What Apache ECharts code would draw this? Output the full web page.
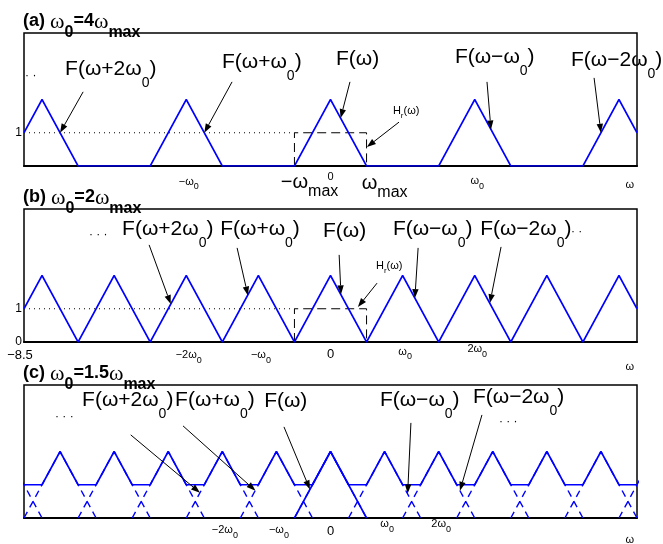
<!DOCTYPE html>
<html><head><meta charset="utf-8">
<script src="https://cdn.jsdelivr.net/npm/echarts@6/dist/echarts.min.js"></script>
<style>html,body{margin:0;padding:0;background:#fff}#c{width:663px;height:544px}</style>
</head><body><div id="c"></div>
<script>
// ---------------- data ----------------
const xRange = [-8.5, 8.5];
const yRange = [0, 4];
// (a) w0 = 4 wmax
const aX = [-8.5, -8, -7, -5, -4, -3, -1, 0, 1, 3, 4, 5, 7, 8, 8.5];
const aY = [1, 2, 0, 0, 2, 0, 0, 2, 0, 0, 2, 0, 0, 2, 1];
// (b) w0 = 2 wmax
const bX = [-8.5, -8, -7, -6, -5, -4, -3, -2, -1, 0, 1, 2, 3, 4, 5, 6, 7, 8, 8.5];
const bY = [1, 2, 0, 2, 0, 2, 0, 2, 0, 2, 0, 2, 0, 2, 0, 2, 0, 2, 1];
// (c) w0 = 1.5 wmax : summed spectrum (solid)
const cSumX = [-8.5, -8, -7.5, -7, -6.5, -6, -5.5, -5, -4.5, -4, -3.5, -3, -2.5, -2, -1.5, -1, -0.5, 0, 0.5, 1, 1.5, 2, 2.5, 3, 3.5, 4, 4.5, 5, 5.5, 6, 6.5, 7, 7.5, 8, 8.5];
const cSumY = [1, 1, 2, 1, 1, 2, 1, 1, 2, 1, 1, 2, 1, 1, 2, 1, 1, 2, 1, 1, 2, 1, 1, 2, 1, 1, 2, 1, 1, 2, 1, 1, 2, 1, 1];
// (c) individual shifted copies (dashed)
const cCenters = [-9, -7.5, -6, -4.5, -3, -1.5, 0, 1.5, 3, 4.5, 6, 7.5, 9];
const cSolidCenters = [0];
const triDX = [-1, 0, 1];
const triY = [0, 2, 0];
// ideal reconstruction filter Hr and the level-1 guide
const hrX = [-1, -1, 1, 1];
const hrY = [0, 1, 1, 0];
const dotX = [-8.5, -1];
const dotY = [1, 1];

// tick labels
const aTicks = [-4, -1, 0, 1, 4, 8.3];
const aTickText = ['−ω_{0}', '−ω_{max}', '0', 'ω_{max}', 'ω_{0}', 'ω'];
const bTicks = [-8.5, -4, -2, 0, 2, 4, 8.3];
const bTickText = ['−8.5', '−2ω_{0}', '−ω_{0}', '0', 'ω_{0}', '2ω_{0}', 'ω'];
const cTicks = [-3, -1.5, 0, 1.5, 3, 8.3];
const cTickText = ['−2ω_{0}', '−ω_{0}', '0', 'ω_{0}', '2ω_{0}', 'ω'];
const aYTicks = [1];
const aYText = ['1'];
const bYTicks = [0, 1];
const bYText = ['0', '1'];

// titles
const titles = ['(a) ω_{0}=4ω_{max}', '(b) ω_{0}=2ω_{max}', '(c) ω_{0}=1.5ω_{max}'];

// annotations
const noteText = ['F(ω+2ω_{0})', 'F(ω+ω_{0})', 'F(ω)', 'F(ω−ω_{0})', 'F(ω−2ω_{0})'];
const aNoteX = [-7.36, -3.01, 0.15, 3.45, 6.67];
const aNoteY = [2.90, 3.13, 3.22, 3.28, 3.17];
const bNoteX = [-5.78, -3.06, -0.21, 1.73, 4.15];
const bNoteY = [3.40, 3.40, 3.34, 3.40, 3.40];
const cNoteX = [-6.89, -4.31, -1.84, 1.37, 3.95];
const cNoteY = [3.54, 3.54, 3.51, 3.54, 3.63];
const hrText = 'H_{r}(ω)';
const aHrPos = [1.73, 1.65];
const bHrPos = [1.26, 2.29];
const aArrowFrom = [[-6.86, 2.23], [-2.73, 2.53], [0.54, 2.53], [4.34, 2.53], [7.31, 2.65], [1.90, 1.32]];
const aArrowTo = [[-7.5, 1.0], [-3.5, 1.0], [0.28, 1.44], [4.45, 1.1], [7.5, 1.0], [1.01, 0.57]];
const bArrowFrom = [[-5.03, 2.92], [-2.59, 2.83], [0.24, 2.62], [2.43, 2.83], [4.73, 2.86], [1.29, 1.77]];
const bArrowTo = [[-4.43, 1.14], [-2.29, 1.40], [0.29, 1.43], [2.34, 1.32], [4.42, 1.17], [0.76, 1.05]];
const cArrowFrom = [[-5.54, 2.50], [-4.09, 2.77], [-1.29, 2.74], [2.23, 2.86], [4.20, 3.10]];
const cArrowTo = [[-3.62, 0.76], [-2.08, 0.82], [-0.57, 0.86], [2.14, 0.74], [3.59, 0.82]];
const aDots = [[-8.47, 2.71, '· ·']];
const bDots = [[-6.70, 3.22, '· · ·'], [6.67, 3.31, '· ·']];
const cDots = [[-7.64, 3.04, '· · ·'], [4.67, 2.89, '· · ·']];

// ---------------- layout / style ----------------
const FONT = '"Liberation Sans", Arial, Helvetica, sans-serif';
const SERIF = '"Liberation Serif", "Times New Roman", serif';
const BLUE = '#0000ff';
const gridTops = [33, 209, 385];
const gridH = 133;
const ST_NOTE = {size: 21, subSize: 14, subDy: 14, weight: 'normal'};
const ST_HR = {size: 11, subSize: 8, subDy: 5, weight: 'normal'};
const ST_DOTS = {size: 12, subSize: 12, subDy: 0, weight: 'normal'};
const ST_TICK = {size: 11, subSize: 9, subDy: 5.5, weight: 'normal'};
const ST_TICKL = {size: 20, subSize: 16, subDy: 10, weight: 'normal'};
const ST_TICKM = {size: 13, subSize: 9, subDy: 5.5, weight: 'normal'};
const ST_YT = {size: 12, subSize: 9, subDy: 0, weight: 'normal'};
const ST_TITLE = {size: 18, subSize: 16, subDy: 12, weight: 'bold', omega: 'normal 22px ' + SERIF};
// per-label layout (style, dx, dy below axis)
const aTickLay = [[ST_TICK, 0, 15.5], [ST_TICKL, 0, 16], [ST_TICK, 0, 10.5], [ST_TICKL, 3, 17], [ST_TICK, 0, 15], [ST_TICK, 0, 19]];
const bTickLay = [[ST_TICKM, -4, 13], [ST_TICK, 0, 13], [ST_TICK, 0, 13], [ST_TICKM, 0, 12], [ST_TICK, 0, 9.5], [ST_TICK, 0, 7], [ST_TICK, 0, 25]];
const cTickLay = [[ST_TICK, 0, 12], [ST_TICK, 0, 12], [ST_TICKM, 0, 13], [ST_TICK, 0, 6], [ST_TICK, 0, 6], [ST_TICK, 0, 22]];

const zip = (xs, ys) => xs.map((x, i) => [x, ys[i]]);
function tris(centers) {
  const out = [];
  centers.forEach((c, k) => {
    if (k) out.push(['-', '-']);
    triDX.forEach((d, i) => out.push([c + d, triY[i]]));
  });
  return out;
}
function lineSeries(idx, data, color, width, type, z, clip) {
  return {type: 'line', xAxisIndex: idx, yAxisIndex: idx, data, symbol: 'none', showSymbol: false,
    silent: true, z, clip: clip !== false, connectNulls: false,
    lineStyle: {color, width, type: type || 'solid'}, emphasis: {disabled: true}};
}

const chart = echarts.init(document.getElementById('c'), null, {renderer: 'canvas'});
const grid = gridTops.map(top => ({left: 24, right: 26, top, height: gridH, show: true,
  borderColor: '#000', borderWidth: 1.5, backgroundColor: 'transparent'}));
const xAxis = gridTops.map((t, i) => ({gridIndex: i, type: 'value', min: xRange[0], max: xRange[1],
  axisLine: {show: true, onZero: false, lineStyle: {color: '#000', width: 2}},
  axisTick: {show: false}, axisLabel: {show: false}, splitLine: {show: false}}));
const yAxis = gridTops.map((t, i) => ({gridIndex: i, type: 'value', min: yRange[0], max: yRange[1],
  axisLine: {show: false}, axisTick: {show: false}, axisLabel: {show: false}, splitLine: {show: false}}));

const series = [
  lineSeries(0, zip(dotX, dotY), '#000', 1, [1, 4], 2),
  lineSeries(0, zip(hrX, hrY), '#000', 1, [9, 5], 2),
  lineSeries(0, zip(aX, aY), BLUE, 1.6, 'solid', 3),
  lineSeries(1, zip(dotX, dotY), '#000', 1, [1, 4], 2),
  lineSeries(1, zip(hrX, hrY), '#000', 1, [9, 5], 2),
  lineSeries(1, zip(bX, bY), BLUE, 1.6, 'solid', 3),
  lineSeries(2, tris(cCenters), BLUE, 1.4, [7, 5], 2),
  lineSeries(2, tris(cSolidCenters), BLUE, 1.6, 'solid', 3),
  lineSeries(2, zip(cSumX, cSumY), BLUE, 1.6, 'solid', 3)
];

chart.setOption({animation: false, backgroundColor: '#fff', grid, xAxis, yAxis, series});

// ---------------- text helpers ----------------
const mctx = document.createElement('canvas').getContext('2d');
function measure(t, font) { mctx.font = font; return mctx.measureText(t).width; }
function fontStr(w, s, f) { return w + ' ' + s + 'px ' + f; }
function segs(str) {
  const out = []; const re = /_\{([^}]*)\}/g; let last = 0, m;
  while ((m = re.exec(str))) {
    if (m.index > last) out.push({t: str.slice(last, m.index), sub: false});
    out.push({t: m[1], sub: true}); last = re.lastIndex;
  }
  if (last < str.length) out.push({t: str.slice(last), sub: false});
  return out;
}
function pieces(str, st) {
  const out = [];
  for (const p of segs(str)) {
    if (p.sub) out.push({t: p.t, font: fontStr(st.weight, st.subSize, FONT), dy: st.subDy, sub: true});
    else if (st.omega) {
      p.t.split(/(ω)/).filter(s => s).forEach(s => out.push({t: s,
        font: s === 'ω' ? st.omega : fontStr(st.weight, st.size, FONT), dy: s === 'ω' ? 1 : 0, sub: false}));
    } else out.push({t: p.t, font: fontStr(st.weight, st.size, FONT), dy: 0, sub: false});
  }
  out.forEach(o => { o.w = measure(o.t, o.font); });
  return out;
}
function textEls(str, x, y, st, anchor) {
  const ps = pieces(str, st);
  let x0 = x;
  if (anchor === 'main') { let w = 0; for (const p of ps) { if (p.sub) break; w += p.w; } x0 = x - w / 2; }
  else if (anchor === 'right') x0 = x - ps.reduce((a, p) => a + p.w, 0);
  const els = []; let cx = x0;
  for (const p of ps) {
    els.push({type: 'text', silent: true, z: 20, style: {text: p.t, x: cx, y: y + p.dy, font: p.font,
      fill: '#000', align: 'left', verticalAlign: 'middle', textAlign: 'left', textVerticalAlign: 'middle'}});
    cx += p.w;
  }
  return els;
}
const px = (g, pt) => chart.convertToPixel({gridIndex: g}, pt);
function arrow(g, from, to) {
  const p1 = px(g, from), p2 = px(g, to);
  const dx = p2[0] - p1[0], dy = p2[1] - p1[1], L = Math.hypot(dx, dy), ux = dx / L, uy = dy / L;
  const hl = 9, hw = 3.2, bx = p2[0] - ux * hl, by = p2[1] - uy * hl;
  return [
    {type: 'line', silent: true, z: 15, shape: {x1: p1[0], y1: p1[1], x2: bx, y2: by}, style: {stroke: '#000', lineWidth: 1}},
    {type: 'polygon', silent: true, z: 15, shape: {points: [[p2[0], p2[1]], [bx - uy * hw, by + ux * hw], [bx + uy * hw, by - ux * hw]]}, style: {fill: '#000'}}
  ];
}

const els = [];
// titles
titles.forEach((t, i) => els.push(...textEls(t, 23, gridTops[i] - 12, ST_TITLE, 'left')));
// tick labels
function ticks(g, vals, texts, lay) {
  vals.forEach((v, i) => {
    const p = px(g, [v, 0]);
    els.push(...textEls(texts[i], p[0] + lay[i][1], p[1] + lay[i][2], lay[i][0], 'main'));
  });
}
ticks(0, aTicks, aTickText, aTickLay);
ticks(1, bTicks, bTickText, bTickLay);
ticks(2, cTicks, cTickText, cTickLay);
function yticks(g, vals, texts) {
  vals.forEach((v, i) => { const p = px(g, [xRange[0], v]); els.push(...textEls(texts[i], p[0] - 2, p[1], ST_YT, 'right')); });
}
yticks(0, aYTicks, aYText);
yticks(1, bYTicks, bYText);
// notes
function notes(g, xs, ys) { xs.forEach((x, i) => { const p = px(g, [x, ys[i]]); els.push(...textEls(noteText[i], p[0], p[1], ST_NOTE, 'left')); }); }
notes(0, aNoteX, aNoteY); notes(1, bNoteX, bNoteY); notes(2, cNoteX, cNoteY);
[[0, aHrPos], [1, bHrPos]].forEach(([g, pos]) => { const p = px(g, pos); els.push(...textEls(hrText, p[0], p[1], ST_HR, 'left')); });
[[0, aDots], [1, bDots], [2, cDots]].forEach(([g, ds]) => ds.forEach(d => { const p = px(g, [d[0], d[1]]); els.push(...textEls(d[2], p[0], p[1], ST_DOTS, 'left')); }));
// arrows
[[0, aArrowFrom, aArrowTo], [1, bArrowFrom, bArrowTo], [2, cArrowFrom, cArrowTo]].forEach(([g, fr, to]) =>
  fr.forEach((f, i) => els.push(...arrow(g, f, to[i]))));

chart.setOption({graphic: {elements: els}});
</script></body></html>
